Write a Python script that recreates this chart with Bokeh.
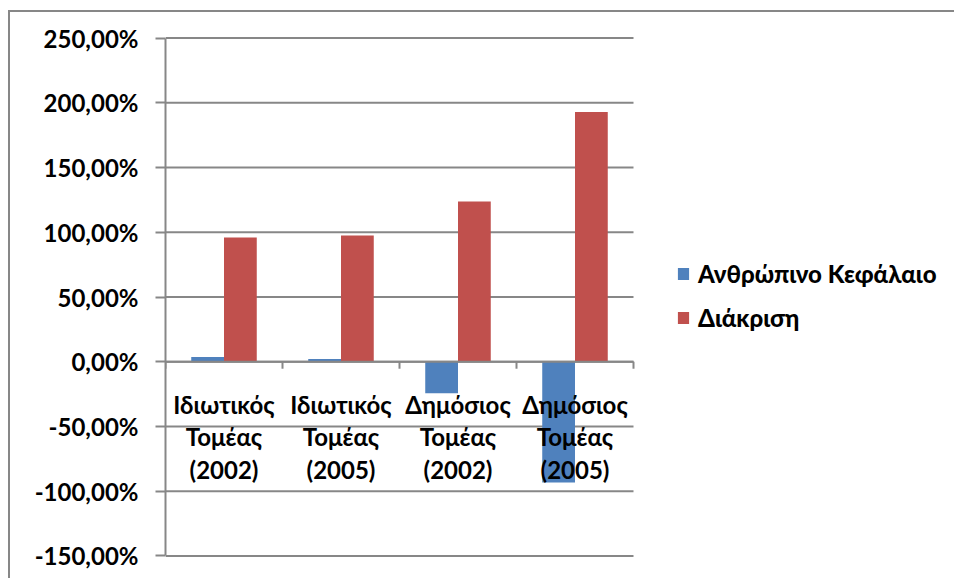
from bokeh.plotting import figure
from bokeh.models import Range1d, FixedTicker, Legend, LegendItem
from bokeh.core.properties import value
from bokeh.embed import file_html
from bokeh.resources import INLINE
import numpy as np

# Sector / year groups shown along the horizontal axis
categories = [
    "Ιδιωτικός\nΤομέας\n(2002)",
    "Ιδιωτικός\nΤομέας\n(2005)",
    "Δημόσιος\nΤομέας\n(2002)",
    "Δημόσιος\nΤομέας\n(2005)",
]
series_names = ["Ανθρώπινο Κεφάλαιο", "Διάκριση"]
human_capital = [3.6, 2.1, -24.3, -93.3]      # percent
discrimination = [96.0, 97.6, 123.8, 193.0]   # percent

y_ticks = [-150, -100, -50, 0, 50, 100, 150, 200, 250]
y_tick_labels = ["-150,00%", "-100,00%", "-50,00%", "0,00%", "50,00%",
                 "100,00%", "150,00%", "200,00%", "250,00%"]

BLUE = "#4F81BD"
RED = "#C0504D"
GRID = "#878787"
FONT = "Lato"
FS = "24px"

n = len(categories)
centers = np.arange(n) + 0.5
bounds = np.arange(n + 1)
bar_w = 0.28

# plot area spans the whole width to the right so the legend can live in it;
# the bar area itself covers x in [0, n] (468 px of the 791 px frame)
x_end = n * 791 / 468

p = figure(width=946, height=568, output_backend="svg", toolbar_location=None,
           x_range=Range1d(0, x_end), y_range=Range1d(-152, 252),
           min_border_left=155, min_border_right=0,
           min_border_top=23, min_border_bottom=22,
           styles={"margin-left": "8px", "margin-top": "10px",
                   "border-left": "2px solid #878787",
                   "border-top": "2px solid #878787"})
p.outline_line_color = None
p.background_fill_color = "white"
p.border_fill_color = "white"
p.xaxis.visible = False
p.xgrid.grid_line_color = None
p.ygrid.grid_line_color = None

# horizontal gridlines across the bar area
p.segment(x0=[0] * len(y_ticks), x1=[n] * len(y_ticks), y0=y_ticks, y1=y_ticks,
          line_color=GRID, line_width=2)

r_blue = p.vbar(x=centers - bar_w / 2, top=human_capital, width=bar_w,
                fill_color=BLUE, line_color=None)
r_red = p.vbar(x=centers + bar_w / 2, top=discrimination, width=bar_w,
               fill_color=RED, line_color=None)

# category axis along zero with tick marks at the group boundaries
p.segment(x0=[0], x1=[n], y0=[0], y1=[0], line_color=GRID, line_width=2)
p.ray(x=bounds, y=[0] * (n + 1), length=7, length_units="screen",
      angle=-np.pi / 2, line_color=GRID, line_width=2)

# category labels just under the zero line
p.text(x=centers, y=[0] * n, text=categories, text_align="center",
       text_baseline="top", y_offset=28, text_font=value(FONT),
       text_font_style="bold", text_font_size="24px", text_color="black",
       text_line_height=1.13)

# y axis
yax = p.yaxis[0]
yax.bounds = (-150, 250)
yax.ticker = FixedTicker(ticks=y_ticks)
yax.major_label_overrides = dict(zip(y_ticks, y_tick_labels))
yax.major_label_text_font = FONT
yax.major_label_text_font_style = "bold"
yax.major_label_text_font_size = FS
yax.major_label_text_color = "black"
yax.major_label_standoff = 17
yax.major_tick_out = 10
yax.major_tick_in = 0
yax.minor_tick_line_color = None
yax.axis_line_color = GRID
yax.axis_line_width = 2
yax.major_tick_line_color = GRID
yax.major_tick_line_width = 2

# legend labels use the heavy cut of Lato directly
legend = Legend(items=[LegendItem(label=series_names[0], renderers=[r_blue]),
                       LegendItem(label=series_names[1], renderers=[r_red])],
                location=(511, 226), orientation="vertical",
                glyph_width=14, glyph_height=15, label_standoff=8,
                spacing=15, padding=0, margin=0,
                label_text_font="Lato Heavy", label_text_font_style="normal",
                label_text_font_size=FS, label_text_color="black",
                border_line_color=None, background_fill_alpha=0)
p.add_layout(legend, "center")

open("out.html", "w").write(file_html(p, INLINE))
